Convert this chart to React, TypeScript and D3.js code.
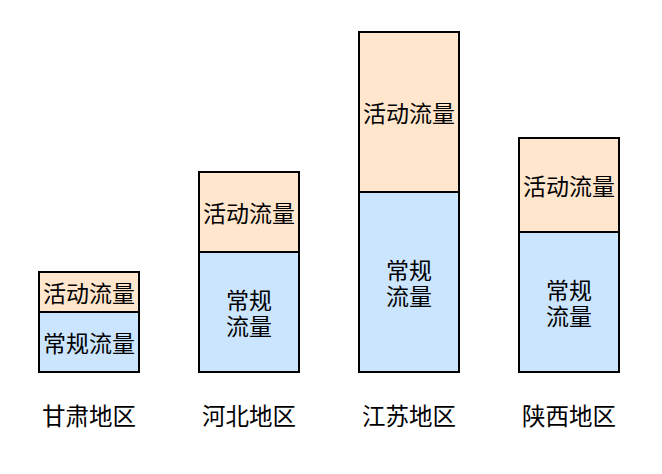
import * as d3 from "d3";

// ── Data ──────────────────────────────────────────────────────────────────────

const regions = ["甘肃地区", "河北地区", "江苏地区", "陕西地区"];
const regularFlow = [30, 60, 90, 70]; // 常规流量
const activityFlow = [20, 40, 80, 47]; // 活动流量
const regularLabel = "常规流量";
const activityLabel = "活动流量";

// ── Layout ────────────────────────────────────────────────────────────────────

const WIDTH = 662;
const HEIGHT = 474;
const FONT = '"Noto Sans CJK SC", "Noto Sans", sans-serif';
const ORANGE = "#FFE6CC";
const BLUE = "#CCE5FF";

export default function App() {
  const x = d3
    .scaleBand<string>()
    .domain(regions)
    .range([39, 619])
    .paddingInner(0.375)
    .paddingOuter(0);

  const y = d3.scaleLinear().domain([0, 170]).range([372, 32]);

  const stack = d3
    .stack<number>()
    .keys(["regular", "activity"])
    .value((i, key) => (key === "regular" ? regularFlow[i] : activityFlow[i]));

  const series = stack(regions.map((_, i) => i));

  const lineH = 26;

  const renderLabel = (text: string, cx: number, cy: number, wrap: boolean) => {
    const lines = wrap ? [text.slice(0, 2), text.slice(2)] : [text];
    const start = cy - ((lines.length - 1) * lineH) / 2;
    return lines.map((l, k) => (
      <text
        key={k}
        x={cx}
        y={start + k * lineH}
        textAnchor="middle"
        dominantBaseline="central"
        fontFamily={FONT}
        fontSize={23}
        fill="#000"
      >
        {l}
      </text>
    ));
  };

  return (
    <svg
      width={WIDTH}
      height={HEIGHT}
      style={{ position: "absolute", left: 0, top: 0, background: "#fff" }}
    >
      {series.map((s) =>
        s.map((d, i) => {
          const x0 = x(regions[i]) ?? 0;
          const yTop = y(d[1]);
          const yBot = y(d[0]);
          const h = yBot - yTop;
          const isRegular = s.key === "regular";
          return (
            <g key={`${s.key}-${i}`}>
              <rect
                x={x0}
                y={yTop}
                width={x.bandwidth()}
                height={h}
                fill={isRegular ? BLUE : ORANGE}
                stroke="#000"
                strokeWidth={2}
              />
              {renderLabel(
                isRegular ? regularLabel : activityLabel,
                x0 + x.bandwidth() / 2,
                yTop + h / 2,
                isRegular && h >= 80
              )}
            </g>
          );
        })
      )}

      {/* Region labels */}
      {regions.map((r) => (
        <text
          key={r}
          x={(x(r) ?? 0) + x.bandwidth() / 2}
          y={415}
          textAnchor="middle"
          dominantBaseline="central"
          fontFamily={FONT}
          fontSize={23.5}
          fill="#000"
        >
          {r}
        </text>
      ))}
    </svg>
  );
}
